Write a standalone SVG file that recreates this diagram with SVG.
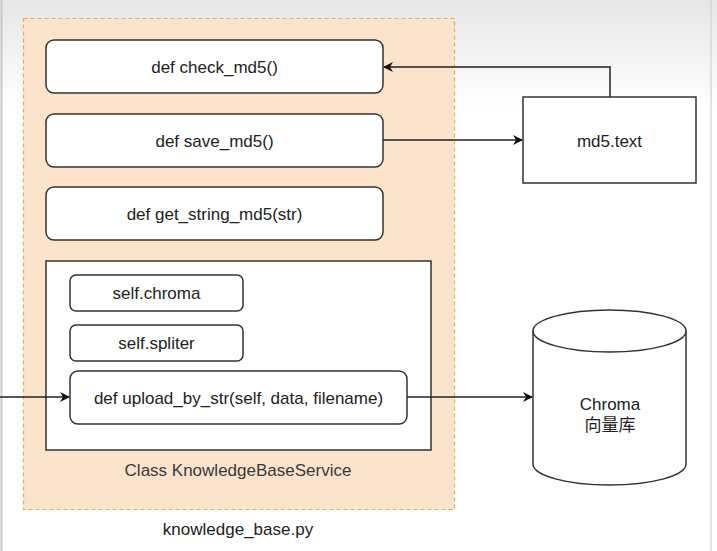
<svg xmlns="http://www.w3.org/2000/svg" width="717" height="551" viewBox="0 0 717 551">
<defs>
<linearGradient id="bg" x1="0" y1="0" x2="0" y2="1">
<stop offset="0" stop-color="#e6e6e6"/>
<stop offset="0.2" stop-color="#ffffff"/>
<stop offset="1" stop-color="#ffffff"/>
</linearGradient>
<marker id="arr" viewBox="0 0 10 10" refX="9" refY="5" markerWidth="10" markerHeight="10" markerUnits="userSpaceOnUse" orient="auto">
<path d="M0,0 L10,5 L0,10 L3,5 Z" fill="#111"/>
</marker>
</defs>
<style>
text{font-family:"Liberation Sans",Arial,sans-serif;font-size:17px;fill:#222;text-anchor:middle;dominant-baseline:central}
.box{fill:#fff;stroke:#333;stroke-width:1.5}
.edge{fill:none;stroke:#222;stroke-width:1.5;marker-end:url(#arr)}
</style>
<rect width="717" height="551" fill="url(#bg)"/>
<line x1="1.5" y1="0" x2="1.5" y2="551" stroke="#c8c8c8" stroke-width="2"/>
<line x1="711" y1="0" x2="711" y2="551" stroke="#d8d8d8" stroke-width="1.5"/>
<g id="file">
<rect x="23.5" y="18.5" width="431" height="491" fill="#fce3cb" stroke="#d6b656" stroke-width="1.2" stroke-dasharray="4 3"/>
<text x="238" y="529">knowledge_base.py</text>
</g>
<g id="class">
<rect x="46" y="261" width="385" height="189" class="box" stroke-width="2"/>
<text x="238" y="470" style="fill:#3a3a3a">Class KnowledgeBaseService</text>
</g>
<g id="check_md5">
<rect x="46" y="40" width="337" height="53" rx="8" class="box"/>
<text x="214.5" y="67">def check_md5()</text>
</g>
<g id="save_md5">
<rect x="46" y="114" width="337" height="53" rx="8" class="box"/>
<text x="214.5" y="141">def save_md5()</text>
</g>
<g id="get_string_md5">
<rect x="46" y="187" width="337" height="53" rx="8" class="box"/>
<text x="214.5" y="214">def get_string_md5(str)</text>
</g>
<g id="self_chroma">
<rect x="70" y="275" width="173" height="36" rx="6" class="box"/>
<text x="156.5" y="293">self.chroma</text>
</g>
<g id="self_spliter">
<rect x="70" y="325" width="173" height="36" rx="6" class="box"/>
<text x="156.5" y="343">self.spliter</text>
</g>
<g id="upload_by_str">
<rect x="70" y="371" width="337" height="53" rx="8" class="box"/>
<text x="238.5" y="398">def upload_by_str(self, data, filename)</text>
</g>
<g id="md5_text">
<rect x="523" y="97" width="173" height="86" class="box"/>
<text x="609.5" y="141">md5.text</text>
</g>
<g id="chroma_db">
<path d="M533,331 L533,464 A76.5,21 0 0 0 686,464 L686,331" class="box"/>
<ellipse cx="609.5" cy="331" rx="76.5" ry="21" class="box"/>
<text x="610" y="404">Chroma</text>
<text x="610" y="425" style="font-family:'Liberation Sans','Noto Sans CJK SC',sans-serif">向量库</text>
</g>
<g id="connectors">
<path d="M610,97 L610,67 L384,67" class="edge"/>
<path d="M383,140 L522,140" class="edge"/>
<path d="M407,397 L532,397" class="edge"/>
<path d="M0,397 L69,397" class="edge"/>
</g>
</svg>
